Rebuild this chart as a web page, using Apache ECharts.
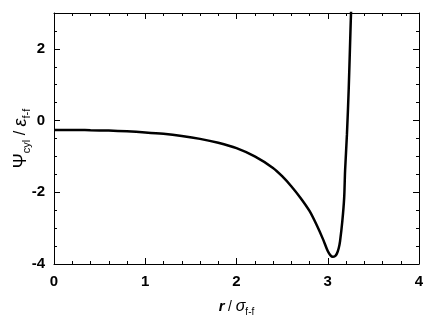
<!DOCTYPE html>
<html><head><meta charset="utf-8">
<script src="https://cdn.jsdelivr.net/npm/echarts@6/dist/echarts.min.js"></script>
<style>html,body{margin:0;padding:0;background:#fff}#c{width:436px;height:326px}</style>
</head><body><div id="c"></div>
<script>
var rValues = [0, 0.2, 0.4, 0.6, 0.8, 1.0, 1.2, 1.4, 1.6, 1.8, 2.0, 2.2, 2.4, 2.5, 2.6, 2.7, 2.8, 2.88, 2.95, 3.0, 3.03, 3.055, 3.08, 3.1, 3.12, 3.135, 3.16, 3.18, 3.19, 3.21, 3.23, 3.25, 3.26];
var psiValues = [-0.26, -0.26, -0.27, -0.28, -0.30, -0.33, -0.37, -0.43, -0.51, -0.62, -0.77, -1.0, -1.32, -1.55, -1.83, -2.15, -2.52, -2.92, -3.32, -3.64, -3.76, -3.8, -3.78, -3.71, -3.56, -3.36, -2.8, -2.15, -1.4, -0.4, 0.9, 2.6, 3.4];
var xTicks = [0, 1, 2, 3, 4];
var yTicks = [-4, -2, 0, 2];

var data = rValues.map(function (r, i) { return [r, psiValues[i]]; });
var font = 'Liberation Sans, Arial, sans-serif';
var chart = echarts.init(document.getElementById('c'));
var tickCommon = { inside: true, length: 6, lineStyle: { color: '#000', width: 1 } };
var minorCommon = { show: true, length: 3, lineStyle: { color: '#000', width: 1 } };
var lineCommon = { show: true, onZero: false, lineStyle: { color: '#000', width: 1 } };
chart.setOption({
  animation: false,
  grid: { left: 54, right: 17, top: 13, bottom: 62, containLabel: false, outerBoundsMode: 'none' },
  xAxis: [{
    type: 'value', min: 0, max: 4, interval: 1,
    axisLine: lineCommon, axisTick: tickCommon,
    minorTick: Object.assign({ splitNumber: 5 }, minorCommon),
    splitLine: { show: false },
    axisLabel: { color: '#000', fontFamily: font, fontWeight: 'bold', fontSize: 15, margin: 10,
      formatter: function (v) { return xTicks.indexOf(v) >= 0 ? String(v) : ''; } },
    name: '{i|r} {n|/ }{g|σ}{s|f-f}', nameLocation: 'middle', nameGap: 33, nameMoveOverlap: false,
    nameTextStyle: { rich: {
      i: { fontFamily: font, fontStyle: 'italic', fontWeight: 'bold', fontSize: 15, lineHeight: 20, color: '#000' },
      n: { fontFamily: font, fontSize: 14, lineHeight: 20, color: '#000' },
      g: { fontFamily: font, fontStyle: 'italic', fontSize: 16, lineHeight: 20, color: '#000' },
      s: { fontFamily: font, fontSize: 10, lineHeight: 10, verticalAlign: 'bottom', color: '#000' }
    } }
  }, {
    type: 'value', position: 'top', min: 0, max: 4, interval: 1,
    axisLine: lineCommon, axisTick: tickCommon,
    minorTick: Object.assign({ splitNumber: 5 }, minorCommon),
    splitLine: { show: false }, axisLabel: { show: false }
  }],
  yAxis: [{
    type: 'value', min: -4, max: 3, interval: 2,
    axisLine: lineCommon, axisTick: tickCommon,
    minorTick: Object.assign({ splitNumber: 4 }, minorCommon),
    splitLine: { show: false },
    axisLabel: { color: '#000', fontFamily: font, fontWeight: 'bold', fontSize: 15, margin: 9,
      formatter: function (v) { return yTicks.indexOf(v) >= 0 ? String(v) : ''; } },
    name: '{g|Ψ}{s|cyl}{n| / }{e|ε}{s|f-f}', nameLocation: 'middle', nameGap: 22, nameRotate: 90,
    nameMoveOverlap: false,
    nameTextStyle: { rich: {
      g: { fontFamily: font, fontSize: 18, lineHeight: 22, color: '#000' },
      e: { fontFamily: font, fontStyle: 'italic', fontSize: 18, lineHeight: 22, color: '#000' },
      n: { fontFamily: font, fontSize: 16, lineHeight: 22, color: '#000' },
      s: { fontFamily: font, fontSize: 11, lineHeight: 11, verticalAlign: 'bottom', color: '#000' }
    } }
  }, {
    type: 'value', position: 'right', min: -4, max: 3, interval: 2,
    axisLine: lineCommon, axisTick: tickCommon,
    minorTick: Object.assign({ splitNumber: 4 }, minorCommon),
    splitLine: { show: false }, axisLabel: { show: false }
  }],
  series: [{
    type: 'line', data: data, xAxisIndex: 0, yAxisIndex: 0,
    smooth: 0.3, symbol: 'none', clip: true,
    lineStyle: { color: '#000', width: 2.5 }
  }]
});
</script></body></html>
